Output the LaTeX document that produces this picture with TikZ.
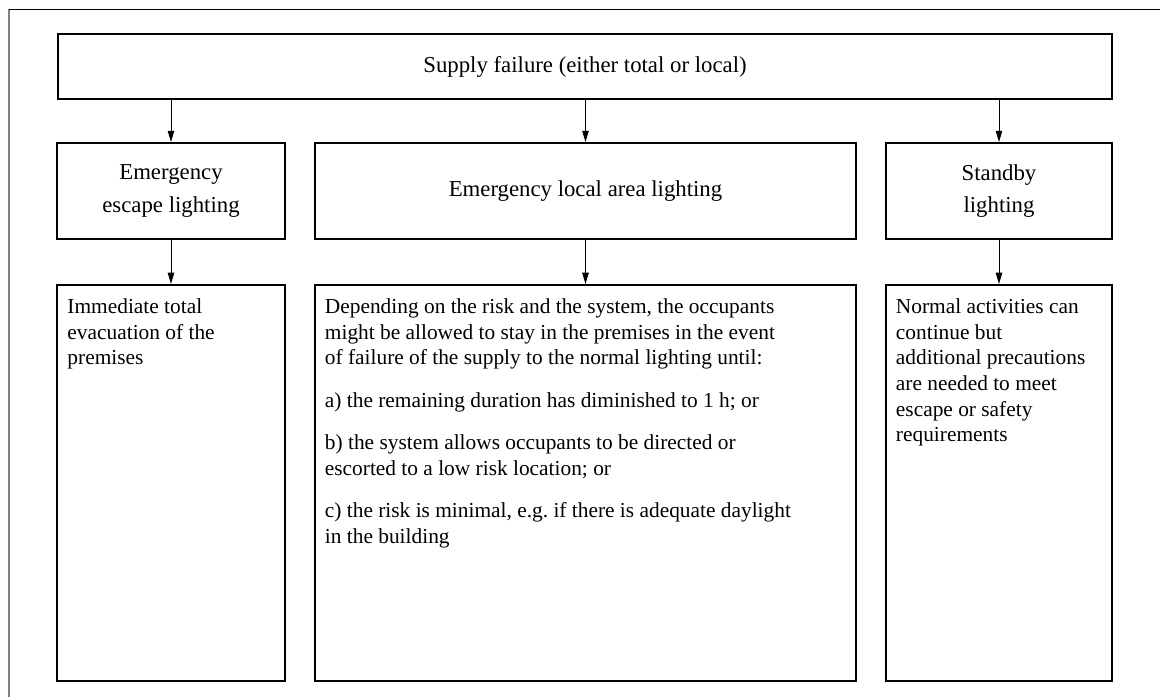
\documentclass[tikz,border=0pt]{standalone}
\usepackage{fontspec}
\setmainfont{Liberation Serif}
\usetikzlibrary{arrows.meta}

\begin{document}
\begin{tikzpicture}[x=0.025cm, y=-0.025cm,
    box/.style={draw=black, line width=1.4pt, inner sep=0pt, align=center, font=\fontsize{16.2}{22.8}\selectfont},
    tall/.style={draw=black, line width=1.4pt, inner xsep=0.25cm, inner ysep=0.35cm, font=\fontsize{15.2}{18.2}\selectfont},
    arr/.style={-{Triangle[length=8pt, width=4.6pt]}, line width=0.6pt}
]
    \useasboundingbox (0,0) rectangle (1160,697);
    % --- 0. FRAME ---
    \draw[gray, line width=0.8pt] (9,697) -- (9,9);
    \draw[line width=0.6pt] (9,9) -- (1160,9);

    % --- 1. SUPPLY FAILURE ---
    \node[box, minimum width=26.35cm, minimum height=1.625cm] (supply) at (585,66.5) {Supply failure (either total or local)};

    % --- 2. KINDS OF LIGHTING ---
    \node[box, minimum width=5.675cm, minimum height=2.4cm] (escape) at (171,191) {Emergency\\escape lighting};
    \node[box, minimum width=13.525cm, minimum height=2.4cm] (local) at (585.5,191) {Emergency local area lighting};
    \node[box, minimum width=5.65cm, minimum height=2.4cm] (standby) at (999,191) {Standby\\lighting};

    % --- 3. CONSEQUENCES ---
    \node[tall] (evac) at (171,483) {\parbox[c][9.2cm][t]{5.175cm}{\raggedright
        Immediate total\\evacuation of the\\premises}};
    \node[tall] (stay) at (585.5,483) {\parbox[c][9.2cm][t]{13.025cm}{\raggedright
        Depending on the risk and the system, the occupants\\
        might be allowed to stay in the premises in the event\\
        of failure of the supply to the normal lighting until:\\[12pt]
        a) the remaining duration has diminished to 1 h; or\\[12pt]
        b) the system allows occupants to be directed or\\
        escorted to a low risk location; or\\[12pt]
        c) the risk is minimal, e.g.\ if there is adequate daylight\\
        in the building}};
    \node[tall] (cont) at (999,483) {\parbox[c][9.2cm][t]{5.15cm}{\raggedright
        Normal activities can\\continue but\\additional precautions\\are needed to meet\\escape or safety\\requirements}};

    \draw[arr] (supply.south -| escape.north) -- (escape.north);
    \draw[arr] (supply.south -| local.north) -- (local.north);
    \draw[arr] (supply.south -| standby.north) -- (standby.north);
    \draw[arr] (escape) -- (evac); \draw[arr] (local) -- (stay); \draw[arr] (standby) -- (cont);
\end{tikzpicture}
\end{document}
